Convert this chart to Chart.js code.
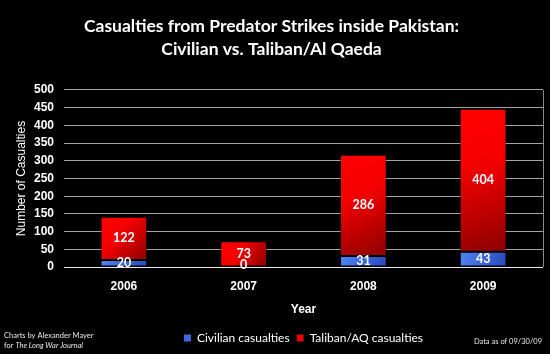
<!DOCTYPE html>
<html><head><meta charset="utf-8">
<script src="https://cdn.jsdelivr.net/npm/chart.js@4.4.0/dist/chart.umd.min.js"></script>
<style>html,body{margin:0;padding:0;background:#000;}canvas{display:block;}</style>
</head><body>
<canvas id="c" width="550" height="354"></canvas>
<script>
const categories = ['2006', '2007', '2008', '2009'];
const civilian = [20, 0, 31, 43];
const taliban = [122, 73, 286, 404];
const seriesNames = ['Civilian casualties', 'Taliban/AQ casualties'];
const legendColors = ['#3c68e0', '#e80000'];
const titleLines = ['Casualties from Predator Strikes inside Pakistan:', 'Civilian vs. Taliban/Al Qaeda'];
const yAxisTitle = 'Number of Casualties';
const xAxisTitle = 'Year';
const creditLine1 = 'Charts by Alexander Mayer';
const creditLine2a = 'for ';
const creditLine2b = 'The Long War Journal';
const dataNote = 'Data as of 09/30/09';

const BAR_PCT = 0.39;

function barGradient(solid, stops) {
  return function (ctx) {
    const chart = ctx.chart;
    if (ctx.type !== 'data' || !chart.chartArea) return solid;
    const xs = chart.scales.x, ys = chart.scales.y;
    if (!xs || !ys) return solid;
    let base = 0;
    for (let d = 0; d < ctx.datasetIndex; d++) base += chart.data.datasets[d].data[ctx.dataIndex];
    const v = chart.data.datasets[ctx.datasetIndex].data[ctx.dataIndex];
    const yTop = ys.getPixelForValue(base + v), yBot = ys.getPixelForValue(base);
    if (yBot - yTop < 1) return solid;
    const xc = xs.getPixelForValue(ctx.dataIndex);
    const half = xs.width / categories.length * BAR_PCT / 2;
    const g = chart.ctx.createLinearGradient(xc - half, yTop, xc + half, yBot);
    stops.forEach(s => g.addColorStop(s[0], s[1]));
    return g;
  };
}

const valueLabels = {
  id: 'valueLabels',
  afterDatasetsDraw(chart) {
    const c = chart.ctx;
    c.save();
    c.font = 'bold 12.5px Lato';
    c.fillStyle = '#ffffff';
    c.textAlign = 'center';
    c.textBaseline = 'middle';
    chart.data.datasets.forEach((ds, di) => {
      chart.getDatasetMeta(di).data.forEach((el, i) => {
        let y = (el.y + el.base) / 2;
        if (ds.data[i] === 0) y -= 2;
        c.fillText(String(ds.data[i]), el.x, y);
      });
    });
    c.restore();
  }
};

const frame = {
  id: 'frame',
  beforeDatasetsDraw(chart) {
    const a = chart.chartArea, c = chart.ctx;
    c.save();
    c.strokeStyle = '#8a8a8a';
    c.lineWidth = 1;
    c.beginPath();
    c.moveTo(a.right + 0.5, a.top);
    c.lineTo(a.right + 0.5, a.bottom);
    c.stroke();
    c.restore();
  }
};

const notes = {
  id: 'notes',
  afterDraw(chart) {
    const c = chart.ctx;
    c.save();
    c.fillStyle = '#e6e6e6';
    c.textBaseline = 'middle';
    c.textAlign = 'left';
    c.font = '7.5px Lato';
    c.fillText(creditLine1, 4, 336);
    c.fillText(creditLine2a, 4, 346);
    const w = c.measureText(creditLine2a).width;
    c.font = 'italic 7.5px Lato';
    c.fillText(creditLine2b, 4 + w, 346);
    c.font = '7.5px Lato';
    c.textAlign = 'right';
    c.fillText(dataNote, 542, 342);
    c.restore();
  }
};

Chart.defaults.font.family = 'Lato';
Chart.defaults.color = '#ffffff';

new Chart(document.getElementById('c'), {
  type: 'bar',
  data: {
    labels: categories,
    datasets: [
      {
        label: seriesNames[0],
        data: civilian,
        backgroundColor: barGradient(legendColors[0], [[0, '#5083f4'], [1, '#2848bc']]),
        borderColor: 'rgba(0,0,0,0.4)',
        borderWidth: 1,
        borderSkipped: false,
        barPercentage: BAR_PCT,
        categoryPercentage: 1
      },
      {
        label: seriesNames[1],
        data: taliban,
        backgroundColor: barGradient(legendColors[1], [[0, '#ff0000'], [0.4, '#f40000'], [1, '#8c0000']]),
        borderColor: 'rgba(0,0,0,0.4)',
        borderWidth: 1,
        borderSkipped: false,
        barPercentage: BAR_PCT,
        categoryPercentage: 1
      }
    ]
  },
  options: {
    responsive: false,
    animation: false,
    devicePixelRatio: 1,
    layout: { padding: { left: 0, right: 7, top: 0, bottom: 0 } },
    plugins: {
      title: {
        display: true,
        text: titleLines,
        color: '#ffffff',
        font: { family: 'Lato', weight: 'bold', size: 17.5, lineHeight: 1.314 },
        padding: { top: 15, bottom: 29 }
      },
      legend: {
        position: 'bottom',
        fullSize: false,
        labels: {
          color: '#ffffff',
          font: { family: 'Lato', size: 12 },
          boxWidth: 7,
          boxHeight: 7,
          padding: 7,
          generateLabels(chart) {
            const items = Chart.defaults.plugins.legend.labels.generateLabels(chart);
            items.forEach((it, i) => { it.fillStyle = legendColors[i]; it.strokeStyle = legendColors[i]; it.lineWidth = 0; });
            return items;
          }
        }
      },
      tooltip: { enabled: false }
    },
    scales: {
      x: {
        stacked: true,
        grid: { display: false, drawTicks: false },
        border: { display: false },
        ticks: { color: '#ffffff', font: { family: 'Liberation Sans', weight: 'bold', size: 12 }, padding: 12 },
        title: { display: true, text: xAxisTitle, color: '#ffffff', font: { family: 'Liberation Sans', weight: 'bold', size: 12 }, padding: { top: 0, bottom: 8 } },
        afterFit(s) { s.height = 58; }
      },
      y: {
        stacked: true,
        min: 0,
        max: 500,
        ticks: { stepSize: 50, color: '#ffffff', font: { family: 'Liberation Sans', weight: 'bold', size: 12 }, padding: 10 },
        grid: { drawTicks: false, color: (ctx) => ctx.tick && ctx.tick.value === 0 ? '#e8e8e8' : '#a4a4a4', lineWidth: 1 },
        border: { display: false },
        title: { display: true, text: yAxisTitle, color: '#ffffff', font: { family: 'Liberation Sans', size: 12 }, padding: { top: 14, bottom: 0 } },
        afterFit(s) { s.width = 64; }
      }
    }
  },
  plugins: [valueLabels, frame, notes]
});
</script>
</body></html>
